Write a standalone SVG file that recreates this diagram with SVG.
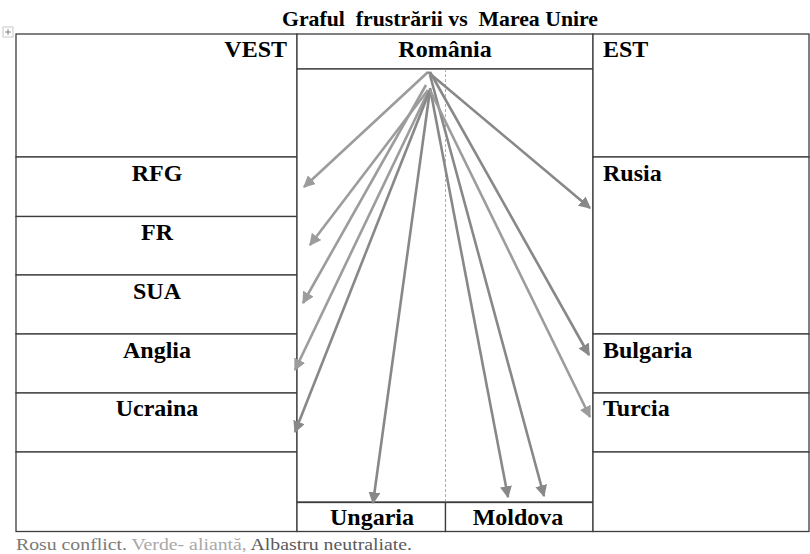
<svg xmlns="http://www.w3.org/2000/svg" width="810" height="554" viewBox="0 0 810 554">
<style>
.cell{fill:#fff;stroke:#3c3c3c;stroke-width:1.3}
.lbl{font-family:"Liberation Serif","Times New Roman",serif;font-weight:bold;font-size:24px;fill:#000}
.title{font-family:"Liberation Serif","Times New Roman",serif;font-weight:bold;font-size:21px;fill:#000}
.leg{font-family:"Liberation Serif","Times New Roman",serif;font-size:17.5px}
.dk{stroke:#888;stroke-width:2.6;fill:none;marker-end:url(#ahd)}
.lt{stroke:#9c9c9c;stroke-width:2.6;fill:none;marker-end:url(#ahl)}
</style>
<defs>
<marker id="ahd" viewBox="0 0 10 10" refX="9" refY="5" markerWidth="4.6" markerHeight="4.6" orient="auto" markerUnits="strokeWidth">
<path d="M0,0 L10,5 L0,10 Z" fill="#888"/>
</marker>
<marker id="ahl" viewBox="0 0 10 10" refX="9" refY="5" markerWidth="4.6" markerHeight="4.6" orient="auto" markerUnits="strokeWidth">
<path d="M0,0 L10,5 L0,10 Z" fill="#9c9c9c"/>
</marker>
</defs>
<rect width="810" height="554" fill="#fff"/>
<g id="handle">
<rect x="3" y="27" width="10" height="10" fill="#fff" stroke="#bbb" stroke-width="0.8"/>
<path d="M8,29 V35 M5,32 H11" stroke="#666" stroke-width="0.8"/>
</g>
<text class="title" x="282" y="26" textLength="316" lengthAdjust="spacingAndGlyphs" xml:space="preserve">Graful  frustrării vs  Marea Unire</text>

<g id="vest"><rect class="cell" x="16" y="34" width="281" height="123"/><text class="lbl" x="287" y="57" text-anchor="end">VEST</text></g>
<g id="rfg"><rect class="cell" x="16" y="157" width="281" height="59.5"/><text class="lbl" x="157" y="181" text-anchor="middle">RFG</text></g>
<g id="fr"><rect class="cell" x="16" y="216.5" width="281" height="58.5"/><text class="lbl" x="157" y="240" text-anchor="middle">FR</text></g>
<g id="sua"><rect class="cell" x="16" y="275" width="281" height="59"/><text class="lbl" x="157" y="299" text-anchor="middle">SUA</text></g>
<g id="anglia"><rect class="cell" x="16" y="334" width="281" height="59"/><text class="lbl" x="157" y="358" text-anchor="middle">Anglia</text></g>
<g id="ucraina"><rect class="cell" x="16" y="393" width="281" height="59"/><text class="lbl" x="157" y="416" text-anchor="middle">Ucraina</text></g>
<g id="vest-empty"><rect class="cell" x="16" y="452" width="281" height="79.5"/></g>

<g id="romania"><rect class="cell" x="297" y="34" width="296" height="35"/><text class="lbl" x="445" y="57" text-anchor="middle">România</text></g>
<g id="middle"><rect class="cell" x="297" y="69" width="296" height="433"/><line x1="445.5" y1="69" x2="445.5" y2="502" stroke="#999" stroke-width="0.8" stroke-dasharray="3,2"/></g>
<g id="ungaria"><rect class="cell" x="297" y="502.5" width="148.5" height="29"/><text class="lbl" x="372" y="525" text-anchor="middle">Ungaria</text></g>
<g id="moldova"><rect class="cell" x="445.5" y="502.5" width="147.5" height="29"/><text class="lbl" x="518" y="525" text-anchor="middle">Moldova</text></g>

<g id="est"><rect class="cell" x="593" y="34" width="216" height="123"/><text class="lbl" x="603" y="57">EST</text></g>
<g id="rusia"><rect class="cell" x="593" y="157" width="216" height="177"/><text class="lbl" x="603" y="181">Rusia</text></g>
<g id="bulgaria"><rect class="cell" x="593" y="334" width="216" height="59"/><text class="lbl" x="603" y="358">Bulgaria</text></g>
<g id="turcia"><rect class="cell" x="593" y="393" width="216" height="59"/><text class="lbl" x="603" y="416">Turcia</text></g>
<g id="est-empty"><rect class="cell" x="593" y="452" width="216" height="79.5"/></g>

<g id="connectors">
<line class="lt" x1="428" y1="72" x2="304" y2="187"/>
<line class="lt" x1="428" y1="90" x2="310" y2="245"/>
<line class="lt" x1="426" y1="85" x2="303" y2="303"/>
<line class="lt" x1="428" y1="92" x2="295" y2="370"/>
<line class="dk" x1="430" y1="90" x2="295" y2="432"/>
<line class="dk" x1="430" y1="90" x2="373" y2="503"/>
<line class="dk" x1="430" y1="88" x2="508" y2="497"/>
<line class="dk" x1="430" y1="75" x2="544" y2="496"/>
<line class="dk" x1="428" y1="72" x2="590" y2="208"/>
<line class="dk" x1="430" y1="72" x2="589" y2="355"/>
<line class="lt" x1="430" y1="90" x2="590" y2="417"/>
</g>

<text class="leg" x="16" y="550" textLength="396" lengthAdjust="spacingAndGlyphs"><tspan fill="#7a7a7a">Rosu conflict. </tspan><tspan fill="#a8a8a8">Verde- aliantă, </tspan><tspan fill="#5a5a5a">Albastru neutraliate.</tspan></text>
</svg>
